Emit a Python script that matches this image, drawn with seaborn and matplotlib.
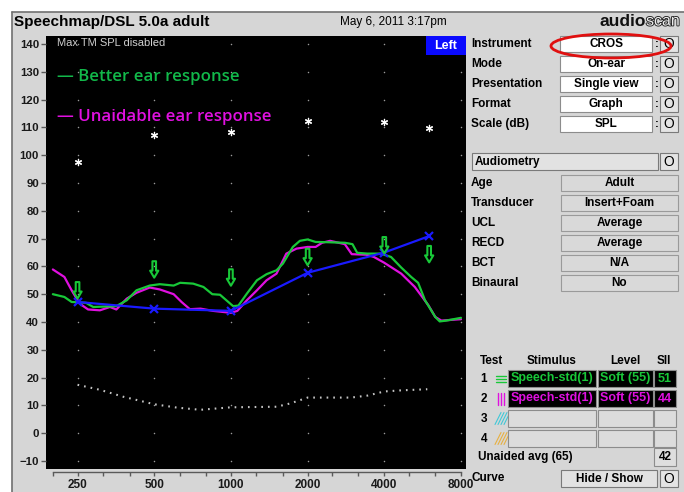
import numpy as np
import pandas as pd
import seaborn as sns
import matplotlib.pyplot as plt
from matplotlib.patches import Rectangle, Ellipse
from matplotlib.path import Path
from matplotlib.ticker import NullFormatter
import matplotlib.patheffects as pe

# ---- data ----
better_freq = [200, 222, 237, 270, 288, 355, 390, 426, 480, 526, 596, 632, 711, 780,
               845, 906, 960, 1020, 1070, 1155, 1265, 1380, 1510, 1600, 1750, 1865,
               2000, 2150, 2390, 2800, 3000, 3130, 3430, 3870, 4250, 4660, 5100, 5430,
               5780, 6340, 6600, 7000, 8000]
better_level = [50, 49, 47.2, 46.9, 45.4, 45.7, 47.8, 51.4, 53.1, 53.6, 53.1, 54.1, 53.8,
                52.6, 50, 49.8, 47.8, 45.7, 45.9, 50.2, 55, 57.2, 58.6, 61, 67, 69.2,
                69.7, 68.8, 68.7, 68.5, 68, 64.9, 64.6, 64.6, 63.4, 59.6, 56.2, 54.1,
                47.8, 41.8, 40.2, 40.5, 41.5]

unaid_freq = [200, 222, 237, 255, 275, 306, 335, 355, 390, 426, 480, 526, 596, 640, 690,
              760, 850, 1000, 1060, 1155, 1265, 1380, 1510, 1650, 1810, 2000, 2150, 2280,
              2450, 2800, 2980, 3400, 3640, 4000, 4660, 5270, 5960, 6340, 6700, 8000]
unaid_level = [58.9, 56.2, 51.4, 46.6, 44.5, 44.2, 45.4, 44.5, 48.4, 50.5, 52.4, 51.7, 50,
               47.2, 44.6, 44.8, 44, 43.3, 44, 47.8, 51.4, 55, 57.4, 64.6, 66.4, 67, 67,
               68.5, 69.2, 68, 64.4, 64.2, 63.4, 61.3, 57.4, 52.6, 46, 41.8, 40.5, 41]

audio_freq = [250, 500, 1000, 2000, 4000, 6000]
target_level = [47.2, 44.8, 44.0, 57.7, 65.0, 70.9]
ucl_level = [97.7, 107.3, 108.2, 112.2, 111.9, 109.7]
thresh_level = [51.4, 58.9, 56.0, 63.4, 67.6, 64.4]

noise_freq = [250, 306, 378, 500, 613, 758, 1000, 1230, 1510, 1710, 2000, 2960, 3430,
              4000, 4660, 5900]
noise_level = [17.4, 15.6, 13.1, 10.4, 9.2, 8.4, 9.3, 9.4, 9.5, 10.7, 12.8, 12.8, 13.5,
               15, 15.4, 15.8]

octave_ticks = [250, 500, 1000, 2000, 4000, 8000]
third_ticks = [200, 315, 400, 630, 800, 1250, 1600, 2500, 3150, 5000, 6300]
level_ticks = list(range(-10, 141, 10))

settings = [("Instrument", "CROS"), ("Mode", "On-ear"), ("Presentation", "Single view"),
            ("Format", "Graph"), ("Scale (dB)", "SPL")]
audiometry = [("Age", "Adult"), ("Transducer", "Insert+Foam"), ("UCL", "Average"),
              ("RECD", "Average"), ("BCT", "N/A"), ("Binaural", "No")]
tests = [("1", "Speech-std(1)", "Soft (55)", "51"),
         ("2", "Speech-std(1)", "Soft (55)", "44"),
         ("3", "", "", ""), ("4", "", "", "")]

GREEN = "#18c838"
MAGENTA = "#e010e0"
BLUE = "#1a1aff"
BG = "#d6d6d6"
W, H = 684, 492
UI_FONT = ["Liberation Sans", "DejaVu Sans"]


def fx(x):
    return x / W


def fy(y):
    return 1 - y / H


def box(fig, x0, y0, x1, y1, fc, ec="#8c8c8c", lw=0.8, z=2):
    fig.add_artist(Rectangle((fx(x0), fy(y1)), (x1 - x0) / W, (y1 - y0) / H,
                             transform=fig.transFigure, facecolor=fc, edgecolor=ec,
                             linewidth=lw, zorder=z))


def label(fig, x, y, s, size=8.5, ha="left", color="black", weight="bold", **kw):
    fig.text(fx(x), fy(y), s, ha=ha, va="center", fontsize=size, color=color,
             fontweight=weight, family=UI_FONT, zorder=5, **kw)


def obutton(fig, x0, y0, x1, y1):
    box(fig, x0, y0, x1, y1, "#e4e4e4", ec="#7a7a7a")
    label(fig, (x0 + x1) / 2, (y0 + y1) / 2 + 0.5, "O", size=10, ha="center",
          weight="normal")


def main():
    sns.set_style("dark")
    plt.rcParams["font.family"] = UI_FONT
    fig = plt.figure(figsize=(6.84, 4.92), dpi=100, facecolor=BG)

    # white margin round the screenshot and its frame
    fig.add_artist(Rectangle((0, 0), fx(12), 1, transform=fig.transFigure,
                             facecolor="white", edgecolor="none", zorder=1))
    fig.add_artist(Rectangle((0, fy(12)), 1, 12 / H, transform=fig.transFigure,
                             facecolor="white", edgecolor="none", zorder=1))
    fig.add_artist(plt.Line2D([fx(12), fx(12)], [0, fy(12)], transform=fig.transFigure,
                              color="#707070", lw=1.2, zorder=2))
    fig.add_artist(plt.Line2D([fx(12), 1], [fy(12), fy(12)], transform=fig.transFigure,
                              color="#707070", lw=1.2, zorder=2))

    ax = fig.add_axes([fx(46), fy(469), (466 - 46) / W, (469 - 36) / H])
    ax.set_facecolor("black")
    ax.set_xscale("log", base=2)
    ax.set_xlim(188, 8370)
    ax.set_ylim(-12.9, 142.9)
    ax.grid(False)

    # dotted grid
    gx, gy = np.meshgrid(octave_ticks, level_ticks)
    ax.scatter(gx.ravel(), gy.ravel(), s=1.2, color="#9a9a9a", linewidths=0, zorder=1)

    sns.lineplot(x=noise_freq, y=noise_level, ax=ax, color="#c4c4c4", lw=1.5,
                 linestyle=(0, (0.8, 2.4)), sort=False, zorder=2)

    curves = pd.DataFrame({
        "freq": better_freq + unaid_freq,
        "level": better_level + unaid_level,
        "curve": ["Better ear response"] * len(better_freq)
                 + ["Unaidable ear response"] * len(unaid_freq),
    })
    sns.lineplot(data=curves, x="freq", y="level", hue="curve", ax=ax,
                 palette={"Better ear response": GREEN, "Unaidable ear response": MAGENTA},
                 hue_order=["Unaidable ear response", "Better ear response"],
                 lw=1.6, sort=False, legend=False, zorder=3)

    sns.lineplot(x=audio_freq, y=target_level, ax=ax, color=BLUE, lw=1.6, marker="x",
                 markersize=6, markeredgewidth=1.6, markeredgecolor=BLUE, zorder=4)

    ax.scatter(audio_freq, ucl_level, marker=(6, 2, 0), s=20, color="white",
               linewidths=0.9, zorder=4)

    arrow = Path([(-0.22, 1), (0.22, 1), (0.22, -0.15), (0.5, -0.15), (0, -1),
                  (-0.5, -0.15), (-0.22, -0.15), (-0.22, 1)], closed=True)
    ax.scatter(audio_freq, thresh_level, marker=arrow, s=140, facecolors="none",
               edgecolors=GREEN, linewidths=1.5, zorder=5)

    # axes decoration
    for side in ["top", "right", "left"]:
        ax.spines[side].set_visible(False)
    ax.spines["bottom"].set_position(("outward", 2.5))
    ax.spines["bottom"].set_bounds(200, 8000)
    ax.spines["bottom"].set_color("#5a5a5a")
    ax.spines["bottom"].set_linewidth(1.0)
    ax.set_xticks(octave_ticks)
    ax.set_xticklabels([str(f) for f in octave_ticks])
    ax.set_xticks(third_ticks, minor=True)
    ax.xaxis.set_minor_formatter(NullFormatter())
    ax.tick_params(axis="x", which="both", direction="out", length=3.2, width=1,
                   color="#5a5a5a", pad=1.5, labelsize=8.5, bottom=True)
    ax.set_yticks(level_ticks)
    ax.tick_params(axis="y", direction="out", length=3.5, width=1, color="#5a5a5a",
                   pad=1.5, labelsize=8.2, left=True)
    for t in ax.get_xticklabels() + ax.get_yticklabels():
        t.set_fontweight("bold")
        t.set_color("#1a1a1a")
    ax.set_xlabel("")
    ax.set_ylabel("")

    # in-plot texts
    ax.text(0.026, 0.983, "Max TM SPL disabled", transform=ax.transAxes, ha="left",
            va="center", fontsize=8, color="#cfcfcf", family=UI_FONT)
    ax.text(0.026, 0.905, "— Better ear response", transform=ax.transAxes, ha="left",
            va="center", fontsize=12.2, color="#12b84a", fontweight="semibold",
            family=["Open Sans", "DejaVu Sans"])
    ax.text(0.026, 0.813, "— Unaidable ear response", transform=ax.transAxes, ha="left",
            va="center", fontsize=12.2, color=MAGENTA, fontweight="semibold",
            family=["Open Sans", "DejaVu Sans"])
    ax.add_patch(Rectangle((0.905, 0.957), 0.095, 0.043, transform=ax.transAxes,
                           facecolor="#0a0aff", edgecolor="none", zorder=6))
    ax.text(0.952, 0.978, "Left", transform=ax.transAxes, ha="center", va="center",
            fontsize=9, color="white", fontweight="bold", family=UI_FONT, zorder=7)

    # title bar
    label(fig, 14, 22, "Speechmap/DSL 5.0a adult", size=11)
    label(fig, 340, 22, "May 6, 2011 3:17pm", size=8.5, weight="normal")
    fig.text(fx(646), fy(21), "audio", ha="right", va="center", fontsize=12.5,
             fontweight="bold", color="#111111", family=UI_FONT, zorder=5)
    fig.text(fx(646), fy(21), "scan", ha="left", va="center", fontsize=11.5,
             fontweight="normal", color="#ececec", family=UI_FONT, zorder=5,
             path_effects=[pe.withStroke(linewidth=1.3, foreground="#222222")])

    # settings column
    for i, (name, value) in enumerate(settings):
        yc = 44 + 20 * i
        label(fig, 471, yc, name)
        box(fig, 560, yc - 8, 652, yc + 8, "white", ec="#8c8c8c")
        label(fig, 606, yc, value, ha="center")
        label(fig, 655, yc, ":", size=8, weight="bold")
        obutton(fig, 660, yc - 8, 678, yc + 8)
    fig.add_artist(Ellipse((fx(611), fy(46)), 120 / W, 24 / H, transform=fig.transFigure,
                           facecolor="none", edgecolor="#e01010", linewidth=2, zorder=6))

    box(fig, 472, 153, 658, 170, "#e2e2e2", ec="#7a7a7a")
    label(fig, 475, 161.5, "Audiometry", weight="bold")
    obutton(fig, 660, 153, 678, 170)
    for i, (name, value) in enumerate(audiometry):
        yc = 183 + 20 * i
        label(fig, 471, yc, name)
        box(fig, 561, yc - 8, 678, yc + 8, "#d9d9d9", ec="#9a9a9a")
        label(fig, 619.5, yc, value, ha="center")

    # test table
    for x, s in [(491, "Test"), (552, "Stimulus"), (625, "Level"), (664, "SII")]:
        label(fig, x, 361, s, ha="center")
    hatch_cols = {"3": "#40c8d8", "4": "#e8b040"}
    for i, (num, stim, level, sii) in enumerate(tests):
        yc = 378.5 + 20 * i
        label(fig, 484, yc, num, ha="center")
        if num == "1":
            for dy in (-3, 0, 3):
                fig.add_artist(plt.Line2D([fx(496), fx(506)], [fy(yc + dy)] * 2,
                                          transform=fig.transFigure, color=GREEN, lw=1))
            fill, tc = "black", GREEN
        elif num == "2":
            for dx in (-3, 0, 3):
                fig.add_artist(plt.Line2D([fx(501 + dx)] * 2, [fy(yc - 6), fy(yc + 6)],
                                          transform=fig.transFigure, color=MAGENTA, lw=1))
            fill, tc = "black", MAGENTA
        else:
            for k in range(4):
                fig.add_artist(plt.Line2D([fx(495 + 3 * k), fx(501 + 3 * k)],
                                          [fy(yc + 6), fy(yc - 6)], transform=fig.transFigure,
                                          color=hatch_cols[num], lw=0.8))
            fill, tc = "#dcdcdc", "black"
        box(fig, 508, yc - 8.5, 596, yc + 8.5, fill, ec="#8c8c8c")
        box(fig, 597.5, yc - 8.5, 652.5, yc + 8.5, fill, ec="#8c8c8c")
        box(fig, 654, yc - 8.5, 676, yc + 8.5, fill, ec="#8c8c8c")
        label(fig, 552, yc, stim, ha="center", color=tc, size=9)
        label(fig, 625, yc, level, ha="center", color=tc, size=9)
        label(fig, 665, yc, sii, ha="center", color=tc, size=9)

    label(fig, 478, 457, "Unaided avg (65)")
    box(fig, 654, 448, 676, 466, "#dedede", ec="#8c8c8c")
    label(fig, 665, 457, "42", ha="center")
    label(fig, 472, 478, "Curve")
    box(fig, 561, 470, 657, 487, "#e2e2e2", ec="#7a7a7a")
    label(fig, 609, 478.5, "Hide / Show", ha="center")
    obutton(fig, 660, 470, 678, 487)

    fig.savefig("out.png", dpi=100, facecolor=BG)


if __name__ == "__main__":
    main()
